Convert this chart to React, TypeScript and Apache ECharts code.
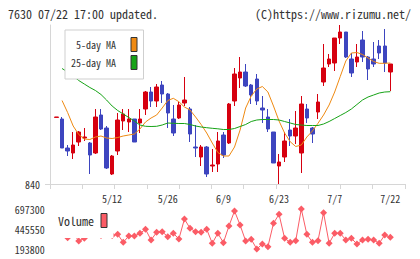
import React, { useEffect, useRef } from 'react';
import * as echarts from 'echarts';

// Trading days shown on the chart
const dates = [
  '4/23', '4/24', '4/25', '4/28', '4/30', '5/1', '5/2', '5/7', '5/8', '5/9',
  '5/12', '5/13', '5/14', '5/15', '5/16', '5/19', '5/20', '5/21', '5/22', '5/23',
  '5/26', '5/27', '5/28', '5/29', '5/30', '6/2', '6/3', '6/4', '6/5', '6/6',
  '6/9', '6/10', '6/11', '6/12', '6/13', '6/16', '6/17', '6/18', '6/19', '6/20',
  '6/23', '6/24', '6/25', '6/26', '6/27', '6/30', '7/1', '7/2', '7/3', '7/4',
  '7/7', '7/8', '7/9', '7/10', '7/11', '7/14', '7/15', '7/16', '7/17', '7/18',
  '7/22',
];

const dateLabels = ['5/12', '5/26', '6/9', '6/23', '7/7', '7/22'];

const open = [
  906.6, 905, 876, 871, 882, 886, 881, 871, 909, 896,
  850, 873, 903, 902, 905, 901, 915, 932, 923, 939,
  930, 905, 906, 921, 915, 877, 867, 877, 858, 860,
  889, 881, 923, 946, 952, 939, 945, 916, 907, 892,
  858, 867, 894, 888, 871, 915, 896, 912, 942, 960,
  961, 986, 992, 965, 962, 984, 967, 965, 978, 978,
  952,
];
const close = [
  907, 876, 873, 879, 892, 887, 869, 907, 895, 856,
  868, 904, 910, 905, 882, 905, 932, 923, 937, 930,
  911, 891, 919, 924, 890, 876, 877, 850, 859, 883,
  869, 920, 950, 952, 938, 929, 923, 914, 895, 861,
  862, 883, 888, 896, 920, 906, 890, 922, 956, 965,
  986, 992, 967, 951, 967, 967, 955, 960, 971, 961,
  960,
];
const low = [
  906.6, 876, 868, 865, 878, 883, 850, 870, 894, 855,
  849, 869, 894, 892, 882, 891, 909, 917, 917, 921,
  896, 888, 905, 918, 882, 867, 858, 847, 852, 852,
  866, 880, 918, 936, 937, 920, 919, 901, 892, 861,
  840, 862, 878, 880, 851, 901, 881, 905, 938, 957,
  953, 980, 966, 947, 957, 962, 944, 957, 965, 952,
  933,
];
const high = [
  907, 907, 879, 892, 893, 896, 882, 915, 915, 898,
  869, 911, 915, 915, 905, 915, 933, 937, 940, 943,
  931, 919, 922, 947, 917, 899, 879, 878, 875, 892,
  892, 921, 956, 967, 960, 940, 950, 928, 915, 892,
  870, 892, 905, 913, 928, 920, 897, 930, 980, 970,
  986, 999, 992, 971, 980, 993, 968, 982, 984, 995,
  960,
];

const ma5 = [
  null, 923.5, 911.5, 898, 889.5, 885, 884.5, 887, 888, 886,
  885.5, 886.5, 888, 889, 890, 895, 902, 906, 909, 916,
  923.5, 925.7, 922.3, 917, 914, 907, 899.5, 891, 881, 871.5,
  868, 868, 877, 894, 916, 928, 935, 937.5, 932, 918,
  903, 891, 882.3, 877.5, 879, 887, 893, 900.7, 909, 919,
  932, 947.5, 963, 971, 971.5, 969.5, 966, 962.5, 960.7, 960.7,
  961,
];
const ma25 = [
  null, 955.5, 952, 948, 943.5, 940, 936.5, 933.5, 929.5, 924,
  918, 913.5, 910, 906.5, 903, 899, 897.7, 897.5, 897.7, 899,
  901, 900.7, 900.5, 900.5, 899.5, 898, 897, 896.3, 895.7, 895.2,
  894.5, 894.5, 895.5, 897.5, 899.5, 902.5, 904, 904.5, 904.5, 904.5,
  904, 902.5, 901, 899.5, 899, 898.5, 898.5, 898.5, 900, 902.5,
  905.5, 908.5, 911.5, 915, 919.5, 924, 927, 929, 931, 932,
  932.3,
];

const volume = [
  458000, 420000, 336000, 395000, 294500, 328500, 433000, 483000, 363700, 420000,
  363700, 378800, 278100, 357400, 357400, 391400, 441800, 307100, 404000, 411600,
  348600, 391400, 319700, 571400, 454400, 411600, 404000, 441800, 265600, 391400,
  273100, 483300, 672100, 495900, 294500, 315900, 193800, 256700, 222700, 517300,
  630600, 328500, 278100, 298300, 697300, 378800, 278100, 298300, 650700, 265600,
  391400, 391400, 307100, 328500, 256700, 307100, 315900, 307100, 265600, 370000,
  341100,
];

const priceMin = 840;
const priceMax = 999;
const volumeTicks = [193800, 445550, 697300];

const FONT = '"Noto Sans Mono CJK JP", "DejaVu Sans Mono", monospace';
const TEXT = '#333333';
const AXIS = '#d6d6d6';
const UP = '#d6000f';
const DOWN = '#3d45bf';
const ORANGE = '#ef8a12';
const GREEN = '#16a316';
const VOL = '#fb5c66';

export default function App() {
  const ref = useRef<HTMLDivElement>(null);

  useEffect(() => {
    const chart = echarts.init(ref.current!, null, { renderer: 'svg' });
    const candles = dates.map((_, i) => [open[i], close[i], low[i], high[i]]);
    const plain = (v: number) => String(v);

    chart.setOption({
      animation: false,
      graphic: [
        {
          type: 'text',
          x: 8,
          y: 13,
          style: { text: '7630 07/22 17:00 updated.', fontFamily: FONT, fontSize: 12, fill: TEXT, align: 'left', verticalAlign: 'middle' },
        },
        {
          type: 'text',
          x: 255,
          y: 13,
          style: { text: '(C)https://www.rizumu.net/', fontFamily: FONT, fontSize: 12, fill: TEXT, align: 'left', verticalAlign: 'middle' },
        },
      ],
      legend: [
        {
          data: ['5-day MA', '25-day MA'],
          orient: 'vertical',
          align: 'right',
          left: 65,
          top: 30,
          padding: [7, 6, 9, 6],
          itemWidth: 6,
          itemHeight: 14,
          itemGap: 3,
          icon: 'rect',
          backgroundColor: '#ffffff',
          borderColor: '#cfcfcf',
          borderWidth: 1,
          borderRadius: 0,
          selectedMode: false,
          itemStyle: { borderColor: '#333333', borderWidth: 1 },
          textStyle: { fontFamily: FONT, fontSize: 10, color: TEXT, padding: [0, 10, 0, 0] },
        },
        {
          data: ['Volume'],
          orient: 'vertical',
          align: 'right',
          left: 53,
          top: 207,
          padding: [6, 6, 10, 5],
          itemWidth: 6,
          itemHeight: 14,
          icon: 'rect',
          backgroundColor: '#ffffff',
          borderWidth: 0,
          selectedMode: false,
          itemStyle: { borderColor: '#333333', borderWidth: 1 },
          textStyle: { fontFamily: FONT, fontSize: 12, color: TEXT, padding: [0, 2, 0, 0] },
        },
      ],
      grid: [
        { left: 53.7, right: 26.9, top: 25, height: 159 },
        { left: 50, right: 15, top: 25, height: 159 },
        { left: 53.7, right: 26.9, top: 209, height: 40 },
      ],
      xAxis: [
        {
          type: 'category',
          gridIndex: 0,
          data: dates,
          boundaryGap: true,
          axisLine: { show: false },
          axisTick: { show: false },
          splitLine: { show: false },
          axisLabel: {
            interval: (_: number, value: string) => dateLabels.includes(value),
            fontFamily: FONT,
            fontSize: 10,
            color: TEXT,
            margin: 9,
          },
        },
        {
          type: 'value',
          gridIndex: 1,
          min: 0,
          max: 11,
          interval: 1,
          axisLine: { show: true, onZero: false, lineStyle: { color: AXIS, width: 1 } },
          axisTick: { show: true, length: 5, lineStyle: { color: AXIS, width: 1 } },
          axisLabel: { show: false },
          splitLine: { show: false },
        },
        {
          type: 'category',
          gridIndex: 2,
          data: dates,
          boundaryGap: true,
          show: false,
        },
      ],
      yAxis: [
        { type: 'value', gridIndex: 0, min: priceMin, max: priceMax, show: false },
        {
          type: 'value',
          gridIndex: 1,
          min: priceMin,
          max: priceMax,
          axisLine: { show: true, onZero: false, lineStyle: { color: AXIS, width: 1 } },
          axisTick: { show: true, length: 5, customValues: [priceMin], lineStyle: { color: AXIS, width: 1 } },
          axisLabel: { customValues: [priceMin], formatter: plain, margin: 10, fontFamily: FONT, fontSize: 10, color: TEXT },
          splitLine: { show: false },
        },
        {
          type: 'value',
          gridIndex: 2,
          min: volumeTicks[0],
          max: volumeTicks[2],
          axisLine: { show: false },
          axisTick: { show: false },
          splitLine: { show: false },
          axisLabel: { customValues: volumeTicks, formatter: plain, margin: 9, fontFamily: FONT, fontSize: 10, color: TEXT },
        },
      ],
      series: [
        {
          type: 'candlestick',
          name: 'Price',
          xAxisIndex: 0,
          yAxisIndex: 0,
          data: candles,
          barWidth: 4,
          itemStyle: {
            color: UP,
            color0: DOWN,
            borderColor: UP,
            borderColor0: DOWN,
            borderColorDoji: UP,
            borderWidth: 1,
          },
        },
        {
          type: 'line',
          name: '5-day MA',
          xAxisIndex: 0,
          yAxisIndex: 0,
          data: ma5,
          symbol: 'none',
          color: ORANGE,
          lineStyle: { color: ORANGE, width: 1 },
        },
        {
          type: 'line',
          name: '25-day MA',
          xAxisIndex: 0,
          yAxisIndex: 0,
          data: ma25,
          symbol: 'none',
          color: GREEN,
          lineStyle: { color: GREEN, width: 1 },
        },
        {
          type: 'line',
          name: 'Volume',
          xAxisIndex: 2,
          yAxisIndex: 2,
          data: volume,
          symbol: 'diamond',
          symbolSize: 7,
          showAllSymbol: true,
          color: VOL,
          itemStyle: { color: VOL },
          lineStyle: { color: VOL, width: 1 },
        },
      ],
    });

    return () => chart.dispose();
  }, []);

  return (
    <div
      ref={ref}
      style={{ position: 'absolute', left: 0, top: 0, width: 420, height: 259, background: '#ffffff' }}
    />
  );
}
